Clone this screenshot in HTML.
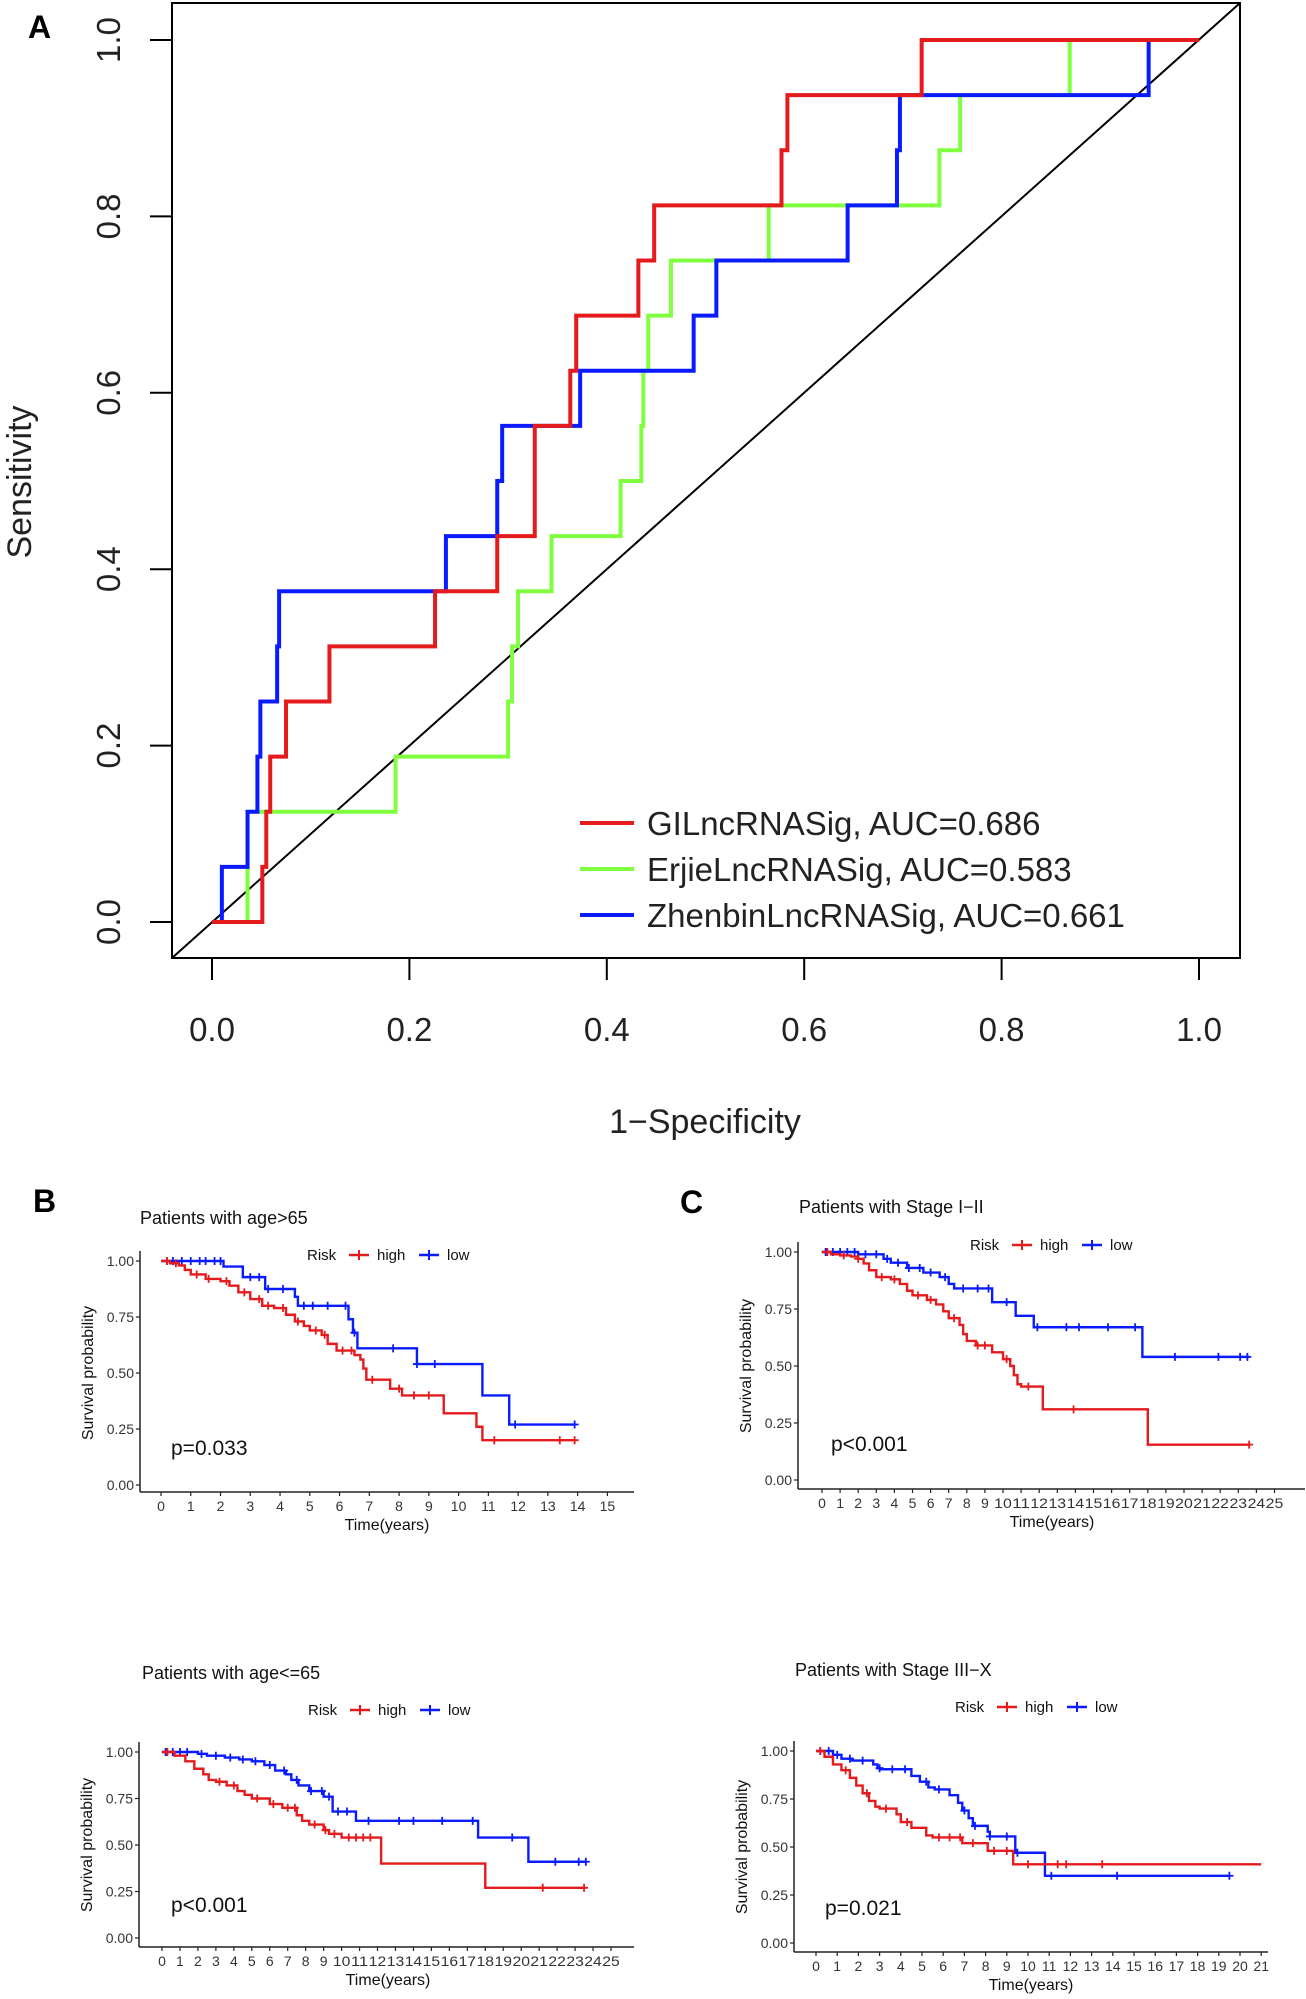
<!DOCTYPE html>
<html><head><meta charset="utf-8"><style>
html,body{margin:0;padding:0;background:#fff;}
svg{display:block;font-family:"Liberation Sans",Arial,sans-serif;}
</style></head><body>
<svg id="fig" width="1306" height="1999" viewBox="0 0 1306 1999" xmlns="http://www.w3.org/2000/svg"></svg>
<script>
// ---------- Panel A : ROC data ----------
const rocLabels = ["GILncRNASig, AUC=0.686","ErjieLncRNASig, AUC=0.583","ZhenbinLncRNASig, AUC=0.661"];
const rocColors = ["#e41a1c","#7fff3f","#0a1cff"];
const redFpr = [0.0,0.051,0.055,0.059,0.075,0.119,0.226,0.289,0.327,0.363,0.369,0.432,0.448,0.577,0.583,0.719,1.0];
const redTpr = [0.0,0.0625,0.125,0.1875,0.25,0.3125,0.375,0.4375,0.5625,0.625,0.6875,0.75,0.8125,0.875,0.9375,1.0,1.0];
const greenFpr = [0.0,0.036,0.186,0.300,0.304,0.310,0.344,0.414,0.435,0.437,0.442,0.465,0.564,0.737,0.758,0.869,1.0];
const greenTpr = [0.0,0.125,0.1875,0.25,0.3125,0.375,0.4375,0.5,0.5625,0.625,0.6875,0.75,0.8125,0.875,0.9375,1.0,1.0];
const blueFpr = [0.0,0.010,0.036,0.046,0.049,0.066,0.068,0.237,0.289,0.294,0.373,0.488,0.511,0.644,0.694,0.697,0.949,1.0];
const blueTpr = [0.0,0.0625,0.125,0.1875,0.25,0.3125,0.375,0.4375,0.5,0.5625,0.625,0.6875,0.75,0.8125,0.875,0.9375,1.0,1.0];
const rocTicks = [0.0,0.2,0.4,0.6,0.8,1.0];

// ---------- KM data ----------
// B top: age>65
const b1HighT = [0,0.3,0.6,0.8,1.0,1.5,2.0,2.3,2.6,3.0,3.4,3.8,4.2,4.5,4.8,5.0,5.4,5.6,5.9,6.5,6.7,6.8,6.9,7.7,8.1,9.5,10.6,10.8,13.9];
const b1HighS = [1,0.99,0.98,0.96,0.94,0.92,0.91,0.89,0.86,0.83,0.80,0.79,0.76,0.73,0.71,0.69,0.67,0.63,0.60,0.58,0.56,0.52,0.47,0.43,0.40,0.32,0.26,0.20,0.20];
const b1LowT = [0,2.1,2.75,3.5,4.5,4.6,6.3,6.45,6.6,8.6,10.8,11.7,13.9];
const b1LowS = [1,0.975,0.928,0.875,0.84,0.80,0.74,0.68,0.61,0.54,0.40,0.27,0.27];
const b1HighC = [0.2,0.5,1.2,1.6,2.2,2.8,3.3,3.6,4.1,4.6,5.2,5.5,6.1,6.4,7.1,8.0,8.5,9.0,11.2,13.4,13.9];
const b1LowC = [0.2,0.4,0.7,1.0,1.3,1.5,1.8,2.0,3.0,3.3,3.6,4.1,4.8,5.1,5.6,6.2,6.5,7.8,8.6,9.2,11.9,13.9];
// B bottom: age<=65
const b2HighT = [0,0.7,1.3,1.8,2.3,2.6,3.0,3.6,4.2,4.6,5.0,6.0,6.7,7.5,7.8,8.2,9.0,9.3,10.0,12.2,18.0,23.6];
const b2HighS = [1,0.98,0.95,0.91,0.88,0.85,0.84,0.82,0.79,0.77,0.75,0.72,0.70,0.66,0.63,0.61,0.58,0.56,0.54,0.40,0.27,0.27];
const b2LowT = [0,2.0,2.5,3.5,4.3,5.0,5.7,6.3,6.9,7.2,7.6,8.2,9.0,9.5,10.8,17.6,20.4,23.6];
const b2LowS = [1,0.99,0.98,0.97,0.96,0.95,0.93,0.90,0.88,0.85,0.82,0.79,0.76,0.68,0.63,0.54,0.41,0.41];
const b2HighC = [0.3,3.2,4.0,5.3,6.2,7.0,7.4,8.5,9.1,9.6,10.4,10.8,11.2,11.6,21.2,23.5];
const b2LowC = [0.2,0.6,1.0,1.4,2.2,3.0,3.8,4.5,5.2,6.0,6.8,7.5,8.3,8.9,9.3,9.8,10.3,11.5,13.2,14.0,15.6,17.3,19.5,21.9,23.2,23.6];
// C top: Stage I-II
const c1HighT = [0,0.5,1.0,1.6,2.0,2.3,2.6,3.0,3.8,4.3,4.7,5.0,5.8,6.3,6.7,7.0,7.6,7.8,8.0,8.5,9.4,10.0,10.4,10.6,10.8,11.0,12.2,18.0,23.6];
const c1HighS = [1,0.99,0.985,0.98,0.97,0.95,0.92,0.89,0.88,0.86,0.83,0.81,0.79,0.77,0.74,0.71,0.68,0.64,0.61,0.59,0.56,0.53,0.50,0.46,0.42,0.41,0.31,0.155,0.155];
const c1LowT = [0,2.0,3.4,3.8,4.7,5.6,6.5,7.0,7.3,9.4,10.7,11.7,17.7,23.6];
const c1LowS = [1,0.99,0.97,0.953,0.93,0.91,0.89,0.86,0.84,0.78,0.72,0.67,0.54,0.54];
const c1HighC = [0.3,1.2,2.0,3.3,4.0,5.3,6.0,7.3,8.6,9.0,10.2,11.4,13.9,23.6];
const c1LowC = [0.2,0.6,1.0,1.4,1.8,2.4,3.0,3.6,4.2,4.8,5.4,6.0,6.8,7.8,8.6,9.2,10.2,11.9,13.5,14.2,15.8,17.3,19.5,21.9,23.1,23.5];
// C bottom: Stage III-X
const c2HighT = [0,0.4,0.8,1.2,1.6,1.9,2.2,2.5,2.8,3.0,3.8,4.0,4.5,5.2,5.5,6.9,8.1,9.3,21.0];
const c2HighS = [1,0.97,0.93,0.90,0.86,0.82,0.78,0.74,0.71,0.70,0.67,0.63,0.60,0.56,0.55,0.52,0.48,0.41,0.41];
const c2LowT = [0,0.8,1.2,1.7,2.7,2.9,3.1,4.5,4.9,5.3,5.6,6.3,6.7,6.9,7.2,7.4,8.1,8.2,9.4,10.8,19.5];
const c2LowS = [1,0.98,0.96,0.95,0.93,0.91,0.905,0.87,0.84,0.81,0.80,0.77,0.73,0.69,0.65,0.61,0.58,0.555,0.47,0.35,0.35];
const c2HighC = [0.2,1.4,2.4,3.3,4.3,5.8,6.3,6.8,7.4,8.4,9.0,10.0,11.4,11.8,13.5];
const c2LowC = [0.2,0.6,1.0,1.6,2.2,3.0,3.6,4.2,5.2,5.8,7.0,7.5,8.2,9.0,9.5,11.1,14.2,19.5];
const kmYTicks = [0,0.25,0.5,0.75,1.0];
const kmYLabels = ["0.00","0.25","0.50","0.75","1.00"];

const NS = "http://www.w3.org/2000/svg";
const svg = document.getElementById('fig');
function mk(tag, attrs, parent, txt){
  const e = document.createElementNS(NS, tag);
  for (const k in attrs) e.setAttribute(k, attrs[k]);
  if (txt !== undefined) e.textContent = txt;
  (parent || svg).appendChild(e);
  return e;
}

// ================= Panel A =================
const gA = mk('g', {});


const ax0 = 212, ax1 = 1199, ay0 = 922, ay1 = 40;
const sx = v => ax0 + v * (ax1 - ax0);
const sy = v => ay0 - v * (ay0 - ay1);
const lblA = mk('text', {x: 28, y: 38, 'font-size': 32, 'font-weight': 'bold'}, gA, 'A');


const box = mk('rect', {x: 172, y: 3, width: 1068, height: 955, fill: 'none', stroke: '#000', 'stroke-width': 2}, gA);


const diag = mk('line', {x1: 172, y1: 958, x2: 1240, y2: 3, stroke: '#000', 'stroke-width': 2}, gA);


rocTicks.forEach(t => {
  const tx = mk('line', {x1: sx(t), y1: 958, x2: sx(t), y2: 980, stroke: '#000', 'stroke-width': 2}, gA);
  
  
  const tl = mk('text', {x: sx(t), y: 1041, 'font-size': 33, 'text-anchor': 'middle', fill: '#222'}, gA, t.toFixed(1));
  
  
  const ty = mk('line', {x1: 150, y1: sy(t), x2: 172, y2: sy(t), stroke: '#000', 'stroke-width': 2}, gA);
  
  
  const yl = mk('text', {x: 0, y: 0, 'font-size': 33, 'text-anchor': 'middle', fill: '#222', transform: `translate(120,${sy(t)}) rotate(-90)`}, gA, t.toFixed(1));
  
  
});
const xt = mk('text', {x: 705, y: 1133, 'font-size': 34, 'text-anchor': 'middle', fill: '#222'}, gA, '1\u2212Specificity');


const yt = mk('text', {x: 0, y: 0, 'font-size': 34, 'text-anchor': 'middle', fill: '#222', transform: 'translate(31,482) rotate(-90)'}, gA, 'Sensitivity');



function rocPath(fx, ty){
  let d = `M${sx(fx[0])},${sy(ty[0])}`;
  for (let i = 1; i < fx.length; i++) d += ` H${sx(fx[i])} V${sy(ty[i])}`;
  return d;
}
const rocSeries = [[greenFpr, greenTpr, 1],[blueFpr, blueTpr, 2],[redFpr, redTpr, 0]];
const rocNames = ['roc-curve-gilncrnasig','roc-curve-erjielncrnasig','roc-curve-zhenbinlncrnasig'];
rocSeries.forEach(s => {
  const p = mk('path', {d: rocPath(s[0], s[1]), fill: 'none', stroke: rocColors[s[2]], 'stroke-width': 4}, gA);
  
  
});
const legY = [823, 869, 915];
rocLabels.forEach((l, i) => {
  const g = mk('g', {}, gA);
  
  
  mk('line', {x1: 580, y1: legY[i], x2: 634, y2: legY[i], stroke: rocColors[i], 'stroke-width': 4}, g);
  mk('text', {x: 647, y: legY[i] + 12, 'font-size': 33, fill: '#222'}, g, l);
});

// ================= KM panels =================
function kmPanel(cfg){
  const g = mk('g', {});
  
  
  const X = t => cfg.x0 + t * cfg.pxYr;
  const Y = s => cfg.y0 - s * (cfg.y0 - cfg.y1);
  if (cfg.letter){
    const L = mk('text', {x: cfg.letter[1], y: cfg.letter[2], 'font-size': 32, 'font-weight': 'bold'}, g, cfg.letter[0]);
    
    
  }
  const T = mk('text', {x: cfg.titleX, y: cfg.titleY, 'font-size': 18, fill: '#111'}, g, cfg.title);
  
  
  const lg = mk('g', {}, g);
  
  
  const lx = cfg.legX, ly = cfg.legY;
  mk('text', {x: lx, y: ly + 5, 'font-size': 15, fill: '#111'}, lg, 'Risk');
  mk('line', {x1: lx + 42, y1: ly, x2: lx + 62, y2: ly, stroke: '#e41a1c', 'stroke-width': 2.5}, lg);
  mk('line', {x1: lx + 52, y1: ly - 5, x2: lx + 52, y2: ly + 5, stroke: '#e41a1c', 'stroke-width': 2}, lg);
  mk('text', {x: lx + 70, y: ly + 5, 'font-size': 15, fill: '#111'}, lg, 'high');
  mk('line', {x1: lx + 112, y1: ly, x2: lx + 132, y2: ly, stroke: '#0a1cff', 'stroke-width': 2.5}, lg);
  mk('line', {x1: lx + 122, y1: ly - 5, x2: lx + 122, y2: ly + 5, stroke: '#0a1cff', 'stroke-width': 2}, lg);
  mk('text', {x: lx + 140, y: ly + 5, 'font-size': 15, fill: '#111'}, lg, 'low');
  const ya = mk('line', {x1: cfg.axX, y1: cfg.y1 - 10, x2: cfg.axX, y2: cfg.axY, stroke: '#222', 'stroke-width': 1.5}, g);
  
  
  const xa = mk('line', {x1: cfg.axX, y1: cfg.axY, x2: cfg.axRight, y2: cfg.axY, stroke: '#222', 'stroke-width': 1.5}, g);
  
  
  kmYTicks.forEach((v, i) => {
    mk('line', {x1: cfg.axX - 4, y1: Y(v), x2: cfg.axX, y2: Y(v), stroke: '#222', 'stroke-width': 1.2}, g);
    const t = mk('text', {x: cfg.axX - 6, y: Y(v) + 5, 'font-size': 14, 'text-anchor': 'end', fill: '#333'}, g, kmYLabels[i]);
    
    
  });
  for (let k = 0; k <= cfg.xMax; k++){
    mk('line', {x1: X(k), y1: cfg.axY, x2: X(k), y2: cfg.axY + 4, stroke: '#222', 'stroke-width': 1.2}, g);
    const t = mk('text', {x: X(k), y: cfg.axY + 19, 'font-size': 14, 'text-anchor': 'middle', fill: '#333'}, g, String(k));
    if (String(k).length > 1 && cfg.pxYr < 19) { t.setAttribute('textLength', cfg.pxYr - 0.5); t.setAttribute('lengthAdjust', 'spacingAndGlyphs'); }
    
    
  }
  const xt = mk('text', {x: cfg.timeX, y: cfg.axY + 38, 'font-size': 16, 'text-anchor': 'middle', fill: '#111'}, g, 'Time(years)');
  
  
  const yt = mk('text', {x: 0, y: 0, 'font-size': 16, 'text-anchor': 'middle', fill: '#111', transform: `translate(${cfg.axX - 47},${(cfg.y0 + cfg.y1) / 2}) rotate(-90)`}, g, 'Survival probability');
  
  
  const pt = mk('text', {x: cfg.pX, y: cfg.pY, 'font-size': 21, fill: '#111'}, g, cfg.p);
  
  
  const curves = [[cfg.lowT, cfg.lowS, cfg.lowC, '#0a1cff', 'km-curve-low'], [cfg.highT, cfg.highS, cfg.highC, '#e41a1c', 'km-curve-high']];
  curves.forEach(c => {
    const [tt, ss, cc, col, nm] = c;
    let d = `M${X(tt[0])},${Y(ss[0])}`;
    for (let i = 1; i < tt.length; i++) d += ` H${X(tt[i])} V${Y(ss[i])}`;
    const p = mk('path', {d, fill: 'none', stroke: col, 'stroke-width': 2.4}, g);
    
    
    cc.forEach(ct => {
      let s = ss[0];
      for (let i = 0; i < tt.length; i++) if (tt[i] <= ct) s = ss[i];
      const m = mk('path', {d: `M${X(ct) - 4},${Y(s)} h8 M${X(ct)},${Y(s) - 4} v8`, stroke: col, 'stroke-width': 1.8}, g);
      
      
    });
  });
}

kmPanel({name: 'km-age-over-65', letter: ['B', 33, 1212], title: 'Patients with age>65', titleX: 140, titleY: 1224,
  legX: 307, legY: 1255, axX: 140, axY: 1492, axRight: 634, x0: 161, pxYr: 29.76, y1: 1261, y0: 1485, xMax: 15,
  timeX: 387, pX: 171, pY: 1455, p: 'p=0.033',
  highT: b1HighT, highS: b1HighS, lowT: b1LowT, lowS: b1LowS, highC: b1HighC, lowC: b1LowC});
kmPanel({name: 'km-age-under-65', title: 'Patients with age<=65', titleX: 142, titleY: 1679,
  legX: 308, legY: 1710, axX: 139, axY: 1947, axRight: 634, x0: 162, pxYr: 17.96, y1: 1752, y0: 1938, xMax: 25,
  timeX: 388, pX: 171, pY: 1912, p: 'p<0.001',
  highT: b2HighT, highS: b2HighS, lowT: b2LowT, lowS: b2LowS, highC: b2HighC, lowC: b2LowC});
kmPanel({name: 'km-stage-1-2', letter: ['C', 680, 1213], title: 'Patients with Stage I\u2212II', titleX: 799, titleY: 1213,
  legX: 970, legY: 1245, axX: 798, axY: 1489, axRight: 1305, x0: 822, pxYr: 18.1, y1: 1252, y0: 1480, xMax: 25,
  timeX: 1052, pX: 831, pY: 1451, p: 'p<0.001',
  highT: c1HighT, highS: c1HighS, lowT: c1LowT, lowS: c1LowS, highC: c1HighC, lowC: c1LowC});
kmPanel({name: 'km-stage-3-x', title: 'Patients with Stage III\u2212X', titleX: 795, titleY: 1676,
  legX: 955, legY: 1707, axX: 794, axY: 1952, axRight: 1268, x0: 816, pxYr: 21.2, y1: 1751, y0: 1943, xMax: 21,
  timeX: 1031, pX: 825, pY: 1915, p: 'p=0.021',
  highT: c2HighT, highS: c2HighS, lowT: c2LowT, lowS: c2LowS, highC: c2HighC, lowC: c2LowC});
</script>
</body></html>
